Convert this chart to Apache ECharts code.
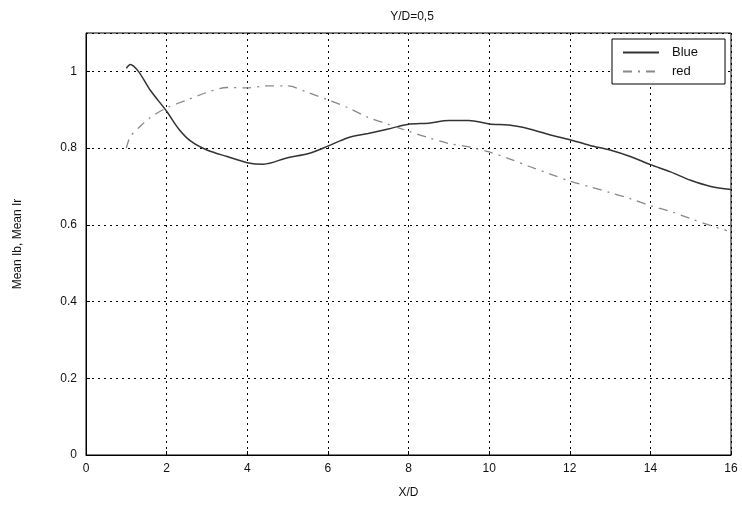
<!DOCTYPE html>
<html><head><meta charset="utf-8">
<script src="https://cdn.jsdelivr.net/npm/echarts@6/dist/echarts.min.js"></script>
<style>html,body{margin:0;padding:0;background:#fff}#c{width:742px;height:506px}</style>
</head><body><div id="c"></div>
<script>
var blueX = [1.0, 1.1, 1.3, 1.6, 2.0, 2.3, 2.6, 3.0, 3.5, 4.0, 4.4, 5.0, 5.5, 6.0, 6.5, 7.0, 7.5, 8.0, 8.5, 9.0, 9.5, 10.0, 10.5, 11.0, 11.5, 12.0, 12.5, 13.0, 13.5, 14.0, 14.5, 15.0, 15.5, 16.0];
var blueY = [1.008, 1.018, 1.0, 0.95, 0.896, 0.85, 0.818, 0.795, 0.778, 0.762, 0.758, 0.775, 0.785, 0.805, 0.827, 0.838, 0.85, 0.862, 0.865, 0.872, 0.872, 0.863, 0.86, 0.85, 0.835, 0.822, 0.807, 0.795, 0.778, 0.757, 0.738, 0.716, 0.70, 0.692];
var redX = [1.0, 1.1, 1.35, 1.6, 2.0, 2.5, 3.0, 3.5, 4.0, 4.5, 5.0, 5.5, 6.0, 6.5, 7.0, 7.5, 8.0, 8.5, 9.0, 9.5, 10.0, 10.5, 11.0, 11.5, 12.0, 12.5, 13.0, 13.5, 14.0, 14.5, 15.0, 15.5, 15.9];
var redY = [0.80, 0.83, 0.857, 0.88, 0.905, 0.925, 0.945, 0.958, 0.957, 0.962, 0.962, 0.945, 0.926, 0.905, 0.88, 0.862, 0.844, 0.827, 0.812, 0.803, 0.79, 0.772, 0.752, 0.733, 0.714, 0.699, 0.684, 0.668, 0.65, 0.635, 0.616, 0.598, 0.585];
var seriesNames = ['Blue', 'red'];
var titleText = 'Y/D=0,5';
var xName = 'X/D';
var yName = 'Mean Ib, Mean Ir';

function pairs(xs, ys){ return xs.map(function(x,i){ return [x, ys[i]]; }); }
var font = 'Liberation Sans, Arial, sans-serif';
var chart = echarts.init(document.getElementById('c'));
var gridLine = {show:true, lineStyle:{color:'#000', width:1, type:[2,4]}};
chart.setOption({
  animation:false,
  backgroundColor:'#fff',
  title:{text:titleText, left:407, top:6, textAlign:'center', textStyle:{fontFamily:font, fontSize:12, fontWeight:'normal', color:'#111'}},
  legend:{
    left:612, top:39, orient:'vertical', align:'left',
    backgroundColor:'#fff', borderColor:'#000', borderWidth:1, borderRadius:0,
    padding:[7,27,6,10], itemGap:6, itemWidth:36, itemHeight:10,
    itemStyle:{opacity:0},
    textStyle:{fontFamily:font, fontSize:13, color:'#111', padding:[0,0,0,8]},
    data:seriesNames
  },
  grid:{left:86, right:11, top:33, bottom:51, show:true, borderColor:'#000', borderWidth:1},
  xAxis:{
    type:'value', min:0, max:16, interval:2,
    name:xName, nameLocation:'middle', nameGap:32,
    nameTextStyle:{fontFamily:font, fontSize:12, color:'#111'},
    axisLine:{show:true, lineStyle:{color:'#000'}},
    axisTick:{show:true, inside:true, length:4, lineStyle:{color:'#000'}},
    axisLabel:{fontFamily:font, fontSize:12, color:'#111', margin:8},
    splitLine:gridLine
  },
  yAxis:{
    type:'value', min:0, max:1.1, interval:0.2,
    name:yName, nameLocation:'middle', nameGap:62,
    nameTextStyle:{fontFamily:font, fontSize:12, color:'#111'},
    axisLine:{show:true, lineStyle:{color:'#000'}},
    axisTick:{show:true, inside:true, length:4, lineStyle:{color:'#000'}},
    axisLabel:{fontFamily:font, fontSize:12, color:'#111', margin:9, showMaxLabel:false,
      formatter:function(v){ return v===0 ? '0' : (Math.round(v*10)/10).toString(); }},
    splitLine:gridLine
  },
  series:[
    {name:seriesNames[0], type:'line', data:pairs(blueX, blueY), smooth:0.3, symbol:'none',
      lineStyle:{color:'#333', width:1.5, type:'solid'}, itemStyle:{color:'#333'}},
    {name:seriesNames[1], type:'line', data:pairs(redX, redY), smooth:0.3, symbol:'none',
      lineStyle:{color:'#888', width:1.3, type:[9,6,2,6]}, itemStyle:{color:'#888'}}
  ]
});
</script></body></html>
